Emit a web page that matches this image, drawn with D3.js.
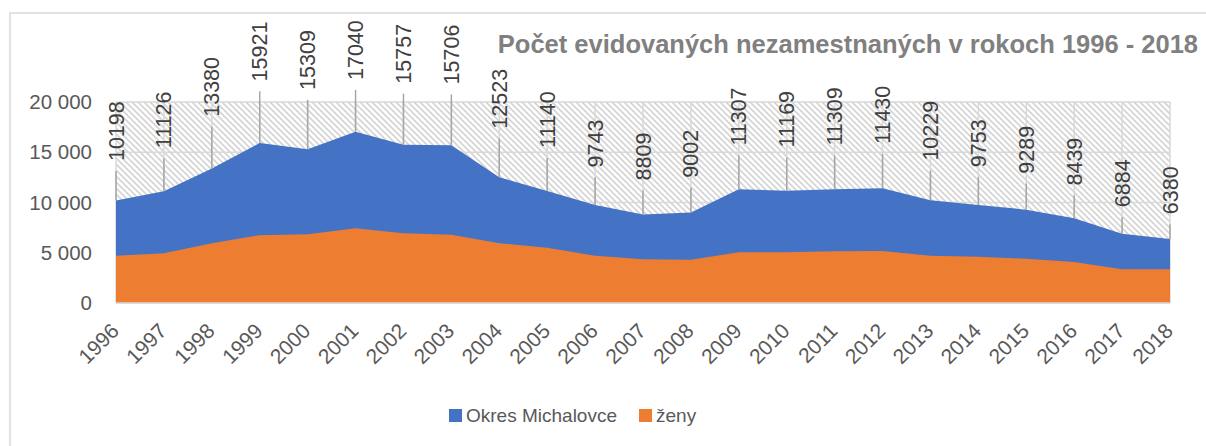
<!DOCTYPE html>
<html>
<head>
<meta charset="utf-8">
<script src="https://cdn.jsdelivr.net/npm/d3@7"></script>
<style>
  body { margin: 0; background: #fff; }
  svg { display: block; font-family: "Liberation Sans", Arial, sans-serif; }
</style>
</head>
<body>
<svg id="chart" width="1206" height="446"></svg>
<script>
const years = ["1996", "1997", "1998", "1999", "2000", "2001", "2002", "2003", "2004", "2005", "2006", "2007",
    "2008", "2009", "2010", "2011", "2012", "2013", "2014", "2015", "2016", "2017", "2018"];
const okres = [10198, 11126, 13380, 15921, 15309, 17040, 15757, 15706, 12523, 11140, 9743, 8809,
    9002, 11307, 11169, 11309, 11430, 10229, 9753, 9289, 8439, 6884, 6380];
const zeny = [4700, 4950, 5950, 6750, 6850, 7450, 6950, 6780, 5950, 5500, 4700, 4350,
    4300, 5050, 5050, 5150, 5170, 4700, 4600, 4400, 4080, 3350, 3350];
const yTicks = [0, 5000, 10000, 15000, 20000];
const seriesNames = ["Okres Michalovce", "ženy"];
const colors = ["#4472C4", "#ED7D31"];

const svg = d3.select("#chart");
const plot = { left: 116, right: 1170, top: 102, bottom: 303 };

const x = d3.scalePoint().domain(years).range([plot.left, plot.right]);
const y = d3.scaleLinear().domain([0, 20000]).range([plot.bottom, plot.top]);
const fmt = d3.formatLocale({ decimal: ",", thousands: " ", grouping: [3], currency: ["", ""] }).format(",d");

// outer frame
svg.append("rect")
    .attr("x", 10).attr("y", 13)
    .attr("width", 1220).attr("height", 460)
    .attr("fill", "none").attr("stroke", "#d9d9d9").attr("stroke-width", 1.5);

// hatch pattern for plot area
const pat = svg.append("defs").append("pattern")
    .attr("id", "hatch")
    .attr("patternUnits", "userSpaceOnUse")
    .attr("width", 6).attr("height", 6);
pat.append("rect").attr("width", 6).attr("height", 6).attr("fill", "#fff");
pat.append("path")
    .attr("d", "M-1,-1L7,7M-1,5L1,7M5,-1L7,1")
    .attr("stroke", "#d4d4d4").attr("stroke-width", 1.6);

svg.append("rect")
    .attr("x", plot.left).attr("y", plot.top)
    .attr("width", plot.right - plot.left).attr("height", plot.bottom - plot.top)
    .attr("fill", "url(#hatch)");

// gridlines
svg.append("g")
    .selectAll("line")
    .data(yTicks)
    .enter().append("line")
    .attr("x1", plot.left).attr("x2", plot.right)
    .attr("y1", d => y(d)).attr("y2", d => y(d))
    .attr("stroke", "#d9d9d9").attr("stroke-width", 1.5);

svg.append("g")
    .selectAll("line")
    .data(years)
    .enter().append("line")
    .attr("x1", d => x(d)).attr("x2", d => x(d))
    .attr("y1", plot.top).attr("y2", plot.bottom)
    .attr("stroke", "#d9d9d9").attr("stroke-width", 1.5);

// areas (not stacked, women in front)
const area = d3.area()
    .x((d, i) => x(years[i]))
    .y0(y(0))
    .y1(d => y(d));

[okres, zeny].forEach((s, k) => {
    svg.append("path")
        .datum(s)
        .attr("d", area)
        .attr("fill", colors[k]);
});

// axis line
svg.append("line")
    .attr("x1", plot.left).attr("x2", plot.right)
    .attr("y1", plot.bottom).attr("y2", plot.bottom)
    .attr("stroke", "#d9d9d9").attr("stroke-width", 1.5);

// y axis labels
svg.append("g")
    .selectAll("text")
    .data(yTicks)
    .enter().append("text")
    .attr("x", 92)
    .attr("y", d => y(d))
    .attr("dy", "0.35em")
    .attr("text-anchor", "end")
    .attr("font-size", 20.5)
    .attr("fill", "#595959")
    .text(d => fmt(d));

// x axis labels
svg.append("g")
    .selectAll("text")
    .data(years)
    .enter().append("text")
    .attr("transform", d => "translate(" + (x(d) - 1) + ",327) rotate(-45)")
    .attr("dy", "0.35em")
    .attr("text-anchor", "end")
    .attr("font-size", 21)
    .attr("fill", "#595959")
    .text(d => d);

// data labels with leader lines
const labelBase = v => Math.max(80, y(v * 1.385));

svg.append("g")
    .selectAll("line")
    .data(okres)
    .enter().append("line")
    .attr("x1", (d, i) => x(years[i])).attr("x2", (d, i) => x(years[i]))
    .attr("y1", d => labelBase(d) + 10)
    .attr("y2", d => y(d))
    .attr("stroke", "#a6a6a6").attr("stroke-width", 1.5);

svg.append("g")
    .selectAll("text")
    .data(okres)
    .enter().append("text")
    .attr("transform", (d, i) => "translate(" + x(years[i]) + "," + labelBase(d) + ") rotate(-90)")
    .attr("dy", "0.35em")
    .attr("font-size", 21.5)
    .attr("fill", "#404040")
    .text(d => d);

// title
svg.append("text")
    .attr("x", 1198).attr("y", 53)
    .attr("text-anchor", "end")
    .attr("font-size", 25.5)
    .attr("font-weight", "bold")
    .attr("fill", "#808080")
    .text("Počet evidovaných nezamestnaných v rokoch 1996 - 2018");

// legend
const legend = svg.append("g");
const legendX = [449, 639];
seriesNames.forEach((n, i) => {
    legend.append("rect")
        .attr("x", legendX[i]).attr("y", 409)
        .attr("width", 13).attr("height", 13)
        .attr("fill", colors[i]);
    legend.append("text")
        .attr("x", legendX[i] + 17).attr("y", 422)
        .attr("font-size", 19)
        .attr("fill", "#595959")
        .text(n);
});
</script>
</body>
</html>
